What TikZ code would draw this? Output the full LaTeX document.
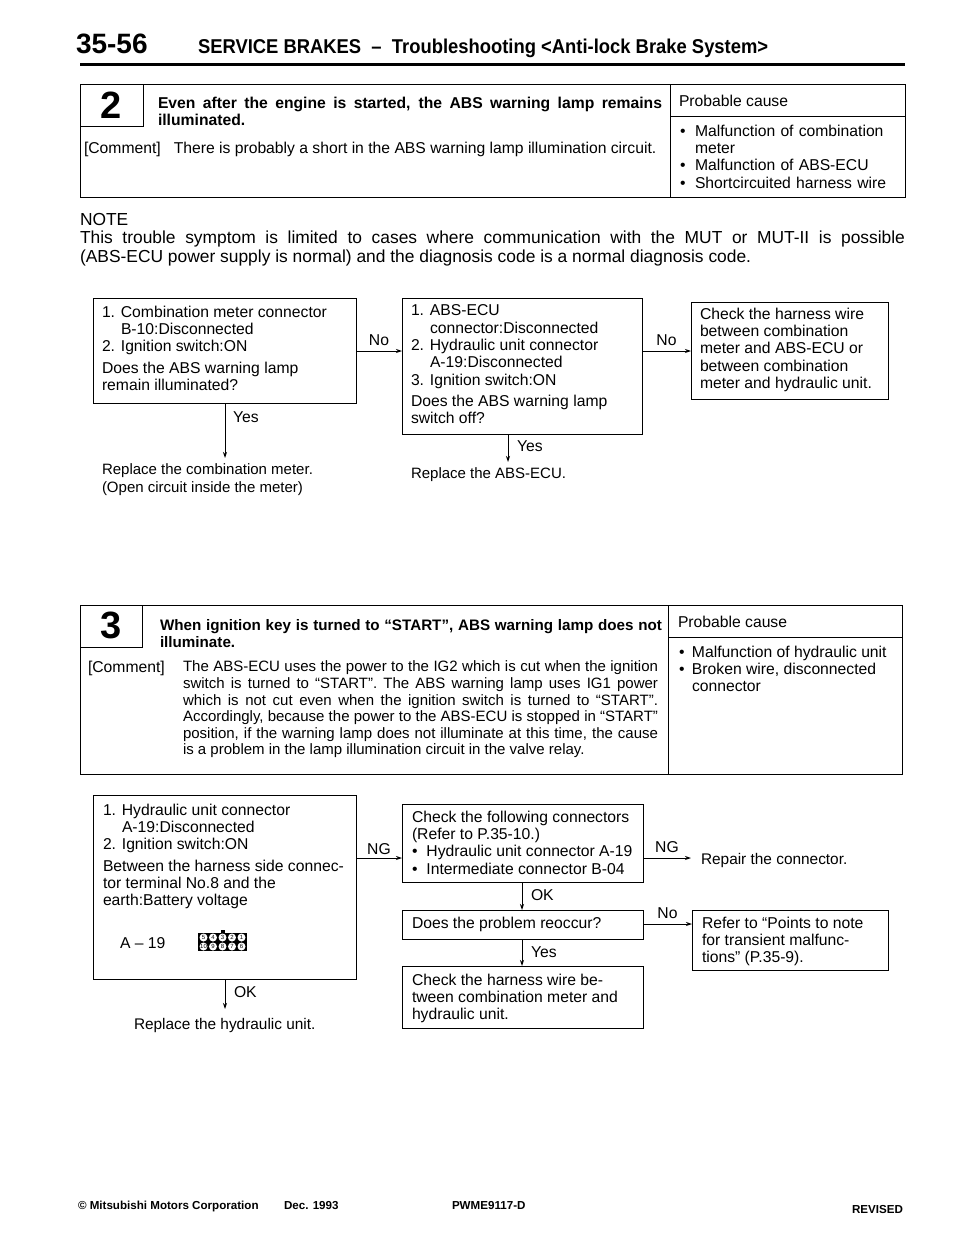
\documentclass[tikz,border=0pt]{standalone}
\usepackage{fontspec}
\setmainfont{Liberation Sans}
\usetikzlibrary{arrows.meta, positioning}
\newcommand{\mytext}{\fontsize{15.7}{17.3}\selectfont}
\newcommand{\footfont}{\bfseries\fontsize{11.6}{13}\selectfont}
\newcommand{\jline}[1]{\makebox[475pt][s]{#1}}
\newcommand{\bul}[1]{\makebox[#1][l]{\textbullet}}
\begin{document}
\begin{tikzpicture}[x=1pt,y=-1pt,>={Stealth[length=6pt,width=4pt]},
      line width=0.9pt,
      every node/.style={inner sep=0pt,outer sep=0pt,font=\mytext},
      chkbox/.style={draw,anchor=north west,inner xsep=0pt},
      txt/.style={anchor=north west,align=left,font=\mytext},
      tag/.style={font=\mytext,anchor=base west},
      frame/.style={draw,line width=1pt}]
  \useasboundingbox (0,0) rectangle (960,1239);
  \fill[white] (0,0) rectangle (960,1239);
  % page head
  \node[anchor=base west,font=\bfseries\fontsize{28}{30}\selectfont] (pagenum) at (76,54) {35-56};
  \node[anchor=base west,font=\bfseries\fontsize{20}{22}\selectfont] (headline) at (198,53) {\scalebox{0.92}[1]{SERVICE BRAKES \ -- \ Troubleshooting <Anti-lock Brake System>}};
  \coordinate (ruleL) at (80,65);
  \coordinate (ruleR) at (905,65);
  \draw[line width=3pt] (ruleL) -- (ruleR);
  % trouble 2
  \draw[frame] (80,84) rectangle (905,197);
  \draw[frame] (670,84) -- (670,197);
  \draw[frame] (670,116) -- (905,116);
  \draw[frame] (80,126) -- (143,126) -- (143,84);
  \node[font=\bfseries\fontsize{38}{40}\selectfont] (numtwo) at (111,105) {2};
  \node[txt,font=\bfseries\mytext,text width=504pt,align=justify] (symtwo) at (158,97) {Even after the engine is started, the ABS warning lamp remains\linebreak illuminated.};
  \node[tag] (comtwo) at (84,153) {[Comment]\hspace{13pt}There is probably a short in the ABS warning lamp illumination circuit.};
  \node[tag] (pctwo) at (679,106) {Probable cause};
  \node[txt,text width=222pt] (causetwo) at (680,125) {\bul{15pt}Malfunction of combination\\\hspace*{15pt}meter\\\bul{15pt}Malfunction of ABS-ECU\\\bul{15pt}Shortcircuited harness wire};
  % note
  \node[txt,text width=825pt,font=\fontsize{17.4}{18.5}\selectfont,align=justify] (notetwo) at (80,213) {NOTE\\This trouble symptom is limited to cases where communication with the MUT or MUT-II is possible\linebreak (ABS-ECU power supply is normal) and the diagnosis code is a normal diagnosis code.};
  % flow of 2
  \node[chkbox,minimum width=263pt,minimum height=105pt] (metertest) at (93,298) {};
  \node[txt] (metertxt) at (102,306) {1. Combination meter connector\\\hspace*{19pt}B-10:Disconnected\\2. Ignition switch:ON\\[4pt]Does the ABS warning lamp\\remain illuminated?};
  \node[chkbox,minimum width=240pt,minimum height=136pt] (ecutest) at (402,298) {};
  \node[txt] (ecutxt) at (411,305) {1. ABS-ECU\\\hspace*{19pt}connector:Disconnected\\2. Hydraulic unit connector\\\hspace*{19pt}A-19:Disconnected\\3. Ignition switch:ON\\[4pt]Does the ABS warning lamp\\switch off?};
  \node[chkbox,minimum width=197pt,minimum height=97pt] (wirecheck) at (691,302) {};
  \node[txt] (wiretxt) at (700,308) {Check the harness wire\\between combination\\meter and ABS-ECU or\\between combination\\meter and hydraulic unit.};
  \node[txt,font=\fontsize{15}{17.3}\selectfont] (replmeter) at (102,464) {Replace the combination meter.\\(Open circuit inside the meter)};
  \node[txt,font=\fontsize{15}{17.3}\selectfont] (replecu) at (411,468) {Replace the ABS-ECU.};
  \coordinate (meterout) at (225,403);
  \coordinate (meterend) at (225,458);
  \coordinate (ecuout) at (508,434);
  \coordinate (ecuend) at (508,462);
  \draw[->] (meterout) -- (meterend) node[pos=0.25,right=8pt] {Yes};
  \draw[->] (ecuout) -- (ecuend) node[pos=0.42,right=9pt] {Yes};
  \draw[->] (metertest.east |- 0,351) -- (ecutest.west |- 0,351) node[pos=0.5,above=5pt] {No};
  \draw[->] (ecutest.east |- 0,351) -- (wirecheck.west |- 0,351) node[pos=0.5,above=5pt] {No};
  % trouble 3
  \draw[frame] (80,605) rectangle (902,774);
  \draw[frame] (668,605) -- (668,774);
  \draw[frame] (668,637) -- (902,637);
  \draw[frame] (80,647) -- (142,647) -- (142,605);
  \node[font=\bfseries\fontsize{38}{40}\selectfont] (numthree) at (111,625) {3};
  \node[txt,font=\bfseries\fontsize{15.2}{17}\selectfont,text width=502pt,align=justify] (symthree) at (160,619) {When ignition key is turned to ``START'', ABS warning lamp does not\linebreak illuminate.};
  \node[tag] (comthree) at (88,672) {[Comment]};
  \node[txt,font=\fontsize{15}{16.6}\selectfont] (combody) at (183,661) {\jline{The ABS-ECU uses the power to the IG2 which is cut when the ignition}\\\jline{switch is turned to ``START''. The ABS warning lamp uses IG1 power}\\\jline{which is not cut even when the ignition switch is turned to ``START''.}\\\jline{Accordingly, because the power to the ABS-ECU is stopped in ``START''}\\\jline{position, if the warning lamp does not illuminate at this time, the cause}\\is a problem in the lamp illumination circuit in the valve relay.};
  \node[tag] (pcthree) at (678,627) {Probable cause};
  \node[txt] (causethree) at (679,646) {\bul{13pt}Malfunction of hydraulic unit\\\bul{13pt}Broken wire, disconnected\\\hspace*{13pt}connector};
  % flow of 3
  \node[chkbox,minimum width=263pt,minimum height=184pt] (hydtest) at (93,795) {};
  \node[txt] (hydtxt) at (103,804) {1. Hydraulic unit connector\\\hspace*{19pt}A-19:Disconnected\\2. Ignition switch:ON\\[4pt]Between the harness side connec-\\tor terminal No.8 and the\\earth:Battery voltage};
  \node[tag] (pinlabel) at (120,948) {A -- 19};
  \fill (198,933) rectangle (247,951);
  \fill (221,930) rectangle (225,933);
  \foreach \pin [count=\i] in {5,4,3,2,1} {
    \node[circle,fill=white,minimum size=8pt,font=\fontsize{6}{6}\selectfont] (upin\i) at (194+\i*9.5,937.5) {\pin};
  }
  \foreach \pin [count=\i] in {10,9,8,7,6} {
    \node[circle,fill=white,minimum size=8pt,font=\fontsize{6}{6}\selectfont] (lpin\i) at (194+\i*9.5,946.5) {\pin};
  }
  \node[chkbox,minimum width=241pt,minimum height=78pt] (conncheck) at (402,804) {};
  \node[txt] (conntxt) at (412,811) {Check the following connectors\\(Refer to P.35-10.)\\\bul{14.5pt}Hydraulic unit connector A-19\\\bul{14.5pt}Intermediate connector B-04};
  \node[chkbox,minimum width=241pt,minimum height=29pt] (reoccur) at (402,910) {};
  \node[txt] (reoctxt) at (412,917) {Does the problem reoccur?};
  \node[chkbox,minimum width=241pt,minimum height=62pt] (wirefin) at (402,966) {};
  \node[txt] (wirefintxt) at (412,974) {Check the harness wire be-\\tween combination meter and\\hydraulic unit.};
  \node[chkbox,minimum width=196pt,minimum height=60pt] (transient) at (692,910) {};
  \node[txt] (transtxt) at (702,917) {Refer to ``Points to note\\for transient malfunc-\\tions'' (P.35-9).};
  \node[txt,font=\fontsize{15.4}{17.3}\selectfont] (repair) at (701,853) {Repair the connector.};
  \node[txt,font=\fontsize{15.4}{17.3}\selectfont] (replhyd) at (134,1018) {Replace the hydraulic unit.};
  \coordinate (repairtip) at (691,858);
  \draw[->] (hydtest.south -| 225,0) -- (225,1009) node[pos=0.45,right=9pt] {OK};
  \draw[->] (hydtest.east |- 0,858) -- (conncheck.west |- 0,858) node[pos=0.5,above=3pt] {NG};
  \draw[->] (conncheck.east |- repairtip) -- (repairtip) node[pos=0.5,above=5pt] {NG};
  \draw[->] (conncheck.south -| 522,0) -- (reoccur.north -| 522,0) node[pos=0.45,right=9pt] {OK};
  \draw[->] (reoccur.south -| 522,0) -- (wirefin.north -| 522,0) node[pos=0.5,right=9pt] {Yes};
  \draw[->] (reoccur.east |- 0,924) -- (transient.west |- 0,924) node[pos=0.5,above=5pt] {No};
  % foot
  \node[anchor=base west,font=\footfont] (footcorp) at (78,1209) {© Mitsubishi Motors Corporation};
  \node[anchor=base west,font=\footfont] (footdate) at (284,1209) {Dec. 1993};
  \node[anchor=base west,font=\footfont] (footcode) at (452,1209) {PWME9117-D};
  \node[anchor=base west,font=\footfont] (footrev) at (852,1213) {REVISED};
\end{tikzpicture}
\end{document}
